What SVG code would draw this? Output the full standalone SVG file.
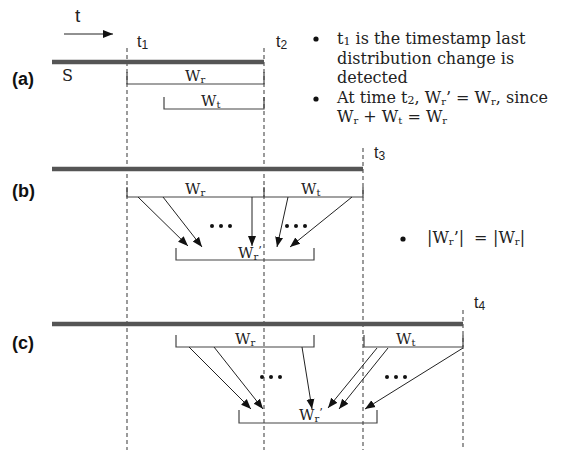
<svg xmlns="http://www.w3.org/2000/svg" width="561" height="450" viewBox="0 0 561 450">
  <defs>
    <marker id="head" viewBox="0 0 10 10" refX="10" refY="5" markerWidth="10" markerHeight="10" markerUnits="userSpaceOnUse" orient="auto">
      <path d="M0,1 L10,5 L0,9 Z" fill="#111"/>
    </marker>
    <style>
      .bar { stroke: #555; stroke-width: 4.5; fill: none; }
      .dash { stroke: #666; stroke-width: 1.3; stroke-dasharray: 4 3; fill: none; }
      .brk { stroke: #444; stroke-width: 1.2; fill: none; }
      .arr { stroke: #222; stroke-width: 1; fill: none; marker-end: url(#head); }
      .lbl { font-family: "Liberation Sans", Arial, sans-serif; font-weight: bold; font-size: 18px; fill: #111; }
      .tm { font-family: "Liberation Sans", Arial, sans-serif; font-size: 16px; fill: #222; }
      .tm tspan { font-size: 12px; }
      .ser { font-family: "DejaVu Serif", "Liberation Serif", serif; font-size: 16px; fill: #222; }
      .w { font-family: "DejaVu Serif", "Liberation Serif", serif; font-size: 15px; fill: #222; }
      .sub { font-size: 10px; }
      .dots { fill: #111; }
    </style>
  </defs>

  <!-- time axis -->
  <g id="time-axis">
    <text class="tm" x="75" y="22" style="font-size:19px">t</text>
    <line x1="64" y1="34" x2="113" y2="34" class="arr"/>
  </g>

  <!-- time markers -->
  <g id="markers">
    <line class="dash" x1="127" y1="48" x2="127" y2="450"/>
    <line class="dash" x1="264" y1="48" x2="264" y2="450"/>
    <line class="dash" x1="363" y1="148" x2="363" y2="450"/>
    <line class="dash" x1="463" y1="310" x2="463" y2="450"/>
    <text class="tm" x="137" y="47">t<tspan dy="2">1</tspan></text>
    <text class="tm" x="276" y="47">t<tspan dy="2">2</tspan></text>
    <text class="tm" x="374" y="158">t<tspan dy="2">3</tspan></text>
    <text class="tm" x="474" y="308">t<tspan dy="2">4</tspan></text>
  </g>

  <!-- panel (a) -->
  <g id="panel-a">
    <text class="lbl" x="12" y="85">(a)</text>
    <line class="bar" x1="52" y1="62" x2="264" y2="62"/>
    <text class="ser" x="62" y="81">S</text>
    <path class="brk" d="M127,72 V84 H264 V72"/>
    <text class="w" x="185" y="81">W<tspan class="sub" dy="2">r</tspan></text>
    <path class="brk" d="M164,97 V109 H264 V97"/>
    <text class="w" x="201" y="106">W<tspan class="sub" dy="2">t</tspan></text>
  </g>

  <!-- panel (b) -->
  <g id="panel-b">
    <text class="lbl" x="12" y="197">(b)</text>
    <line class="bar" x1="52" y1="169" x2="363" y2="169"/>
    <path class="brk" d="M127,187 V197 H363 V187 M264,187 V197"/>
    <text class="w" x="185" y="194">W<tspan class="sub" dy="2">r</tspan></text>
    <text class="w" x="301" y="194">W<tspan class="sub" dy="2">t</tspan></text>
    <path class="brk" d="M176,248 V260 H314 V248"/>
    <text class="w" x="238" y="258">W<tspan class="sub" dy="2">r</tspan><tspan dy="-6" font-size="11">’</tspan></text>
    <g class="dots">
      <circle cx="212" cy="226" r="2"/><circle cx="221" cy="226" r="2"/><circle cx="230" cy="226" r="2"/>
      <circle cx="287" cy="226" r="2"/><circle cx="296" cy="226" r="2"/><circle cx="305" cy="226" r="2"/>
    </g>
  </g>

  <!-- panel (c) -->
  <g id="panel-c">
    <text class="lbl" x="12" y="349">(c)</text>
    <line class="bar" x1="52" y1="324" x2="463" y2="324"/>
    <path class="brk" d="M176,335 V347 H314 V335"/>
    <text class="w" x="235" y="344">W<tspan class="sub" dy="2">r</tspan></text>
    <path class="brk" d="M364,335 V347 H463 V335"/>
    <text class="w" x="396" y="344">W<tspan class="sub" dy="2">t</tspan></text>
    <path class="brk" d="M239,410 V423 H377 V410"/>
    <text class="w" x="299" y="420">W<tspan class="sub" dy="2">r</tspan><tspan dy="-6" font-size="11">’</tspan></text>
    <g class="dots">
      <circle cx="262" cy="377" r="2"/><circle cx="271" cy="377" r="2"/><circle cx="280" cy="377" r="2"/>
      <circle cx="387" cy="377" r="2"/><circle cx="396" cy="377" r="2"/><circle cx="405" cy="377" r="2"/>
    </g>
  </g>

  <!-- connectors -->
  <g id="connectors">
    <line class="arr" x1="138" y1="197" x2="188" y2="246"/>
    <line class="arr" x1="163" y1="197" x2="202" y2="247"/>
    <line class="arr" x1="252" y1="197" x2="252" y2="246"/>
    <line class="arr" x1="288" y1="197" x2="277" y2="247"/>
    <line class="arr" x1="352" y1="197" x2="290" y2="247"/>
    <line class="arr" x1="189" y1="347" x2="251" y2="409"/>
    <line class="arr" x1="214" y1="347" x2="263" y2="409"/>
    <line class="arr" x1="302" y1="347" x2="312" y2="409"/>
    <line class="arr" x1="377" y1="348" x2="328" y2="408"/>
    <line class="arr" x1="388" y1="348" x2="339" y2="409"/>
    <line class="arr" x1="463" y1="348" x2="365" y2="409"/>
  </g>

  <!-- notes -->
  <g id="notes">
    <circle cx="316" cy="39" r="2.6" fill="#111"/>
    <text class="ser" x="337" y="44">t<tspan font-size="11" dy="1">1</tspan><tspan dy="-1"> is the timestamp last</tspan></text>
    <text class="ser" x="337" y="63.5">distribution change is</text>
    <text class="ser" x="337" y="83">detected</text>
    <circle cx="316" cy="99" r="2.6" fill="#111"/>
    <text class="ser" x="337" y="103">At time t<tspan font-size="11" dy="1">2</tspan><tspan dy="-1">, W</tspan><tspan font-size="10" dy="2">r</tspan><tspan dy="-2">’ = W</tspan><tspan font-size="10" dy="2">r</tspan><tspan dy="-2">, since</tspan></text>
    <text class="ser" x="337" y="122">W<tspan font-size="10" dy="2">r</tspan><tspan dy="-2"> + W</tspan><tspan font-size="10" dy="2">t</tspan><tspan dy="-2"> = W</tspan><tspan font-size="10" dy="2">r</tspan></text>
    <circle cx="403" cy="239" r="2.6" fill="#111"/>
    <text class="ser" x="427" y="243">|W<tspan font-size="10" dy="2">r</tspan><tspan dy="-2">’|</tspan><tspan x="474">=</tspan><tspan x="493">|W</tspan><tspan font-size="10" dy="2">r</tspan><tspan dy="-2">|</tspan></text>
  </g>
</svg>
